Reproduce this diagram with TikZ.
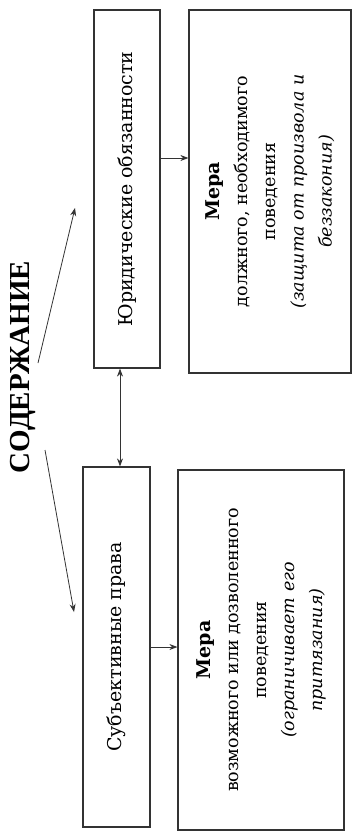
\documentclass[tikz,border=0pt]{standalone}
\usepackage{fontspec}
\setmainfont{DejaVu Serif}
\newfontfamily\titlefont{Liberation Serif}
\usetikzlibrary{arrows.meta}
\begin{document}
\begin{tikzpicture}[x=1pt,y=-1pt,
  box/.style={draw=black!80, line width=1.2pt, rotate=90, inner sep=0pt, align=center},
  lbl/.style={font=\fontsize{19}{24}\selectfont},
  mera/.style={font=\fontsize{17.5}{28}\selectfont},
  conn/.style={draw=black!80, line width=0.8pt, -{Stealth[length=8pt,width=6pt]}},
  dconn/.style={draw=black!80, line width=0.8pt, {Stealth[length=8pt,width=6pt]}-{Stealth[length=8pt,width=6pt]}}]
\useasboundingbox[fill=white] (0,0) rectangle (353,835);

\node[box, lbl, minimum width=358pt, minimum height=66pt] (A) at (127,189) {Юридические обязанности};
\node[box, mera, minimum width=363pt, minimum height=162pt] (B) at (270,191.5)
  {{\fontsize{19}{28}\selectfont\textbf{Мера}}\\должного, необходимого\\поведения\\\textit{(защита от произвола и}\\\textit{беззакония)}};
\node[box, lbl, minimum width=360pt, minimum height=67pt] (C) at (116.5,647) {Субъективные права};
\node[box, mera, minimum width=360pt, minimum height=166pt] (D) at (261,650)
  {{\fontsize{19}{28}\selectfont\textbf{Мера}}\\возможного или дозволенного\\поведения\\\textit{(ограничивает его}\\\textit{притязания)}};

\node[rotate=90, inner sep=0pt, font=\titlefont\bfseries\fontsize{29}{32}\selectfont] (T) at (23,367) {СОДЕРЖАНИЕ};

\coordinate (t1) at (38,363);
\coordinate (h1) at (75,208);
\coordinate (t2) at (45,450);
\coordinate (h2) at (74,612);
\coordinate (dx) at (120,0);
\coordinate (r1) at (0,158);

\draw[conn] (t1) -- (h1);
\draw[conn] (t2) -- (h2);
\draw[dconn] (A.west -| dx) -- (C.east -| dx);
\draw[conn] (A.south |- r1) -- (B.north |- r1);
\draw[conn] (C.south) -- (C.south -| D.north);
\end{tikzpicture}
\end{document}
